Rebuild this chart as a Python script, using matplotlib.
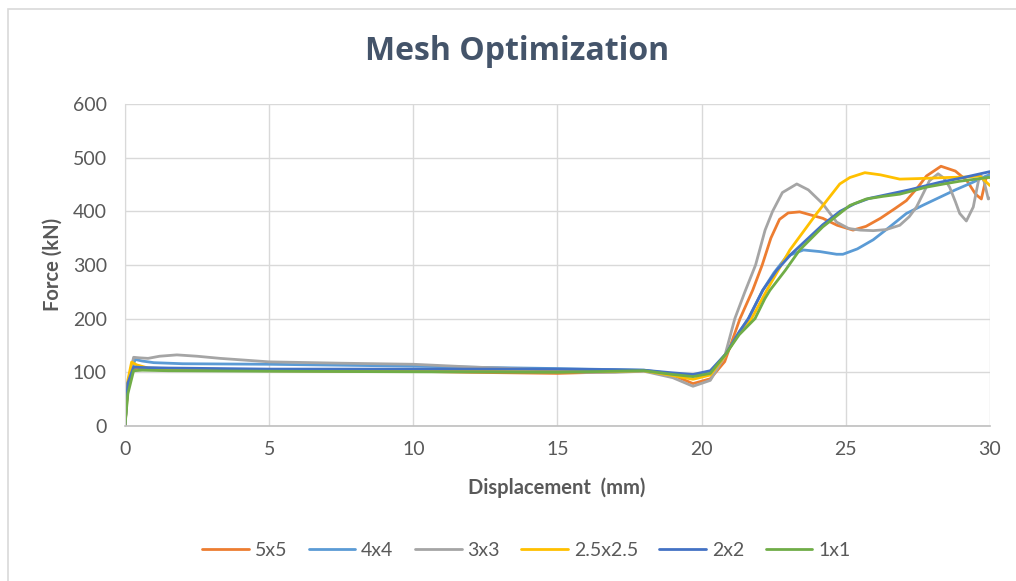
import matplotlib
matplotlib.use("Agg")
from matplotlib import pyplot as plt
from matplotlib.patches import Rectangle

# mesh sizes (legend order) and their Excel palette colours
meshes = ['5x5', '4x4', '3x3', '2.5x2.5', '2x2', '1x1']
colors = ['#ED7D31', '#5B9BD5', '#A5A5A5', '#FFC000', '#4472C4', '#70AD47']

# displacement (mm) / force (kN) per mesh size
x_5x5 = [0, 0.1, 0.25, 0.4, 0.7, 1.5, 3, 5, 8, 10, 12, 15, 17, 18, 19, 19.7, 20.3, 20.8,
         21.33, 21.77, 22.1, 22.4, 22.7, 23.0, 23.4, 23.8, 24.2, 24.7, 25.25, 25.7, 26.2,
         26.7, 27.1, 27.5, 27.8, 28.3, 28.8, 29.2, 29.5, 29.7, 29.87, 30]
y_5x5 = [0, 70, 103, 108, 106, 104, 104, 103, 102, 102, 100, 98, 101, 103, 95, 79, 88, 120,
         200, 253, 300, 350, 385, 397, 399, 393, 387, 374, 365, 372, 387,
         405, 420, 445, 466, 484, 475, 457, 432, 423, 463, 470]

x_4x4 = [0, 0.1, 0.35, 0.6, 1, 2, 5, 10, 12.5, 15, 17, 18, 19, 19.7, 20.3, 20.85, 21.3,
         21.62, 22.12, 22.5, 22.95, 23.53, 24.1, 24.68, 24.9, 25.4, 25.95, 26.5, 27.1, 27.7,
         28.25, 28.8, 29.4, 29.87, 30]
y_4x4 = [0, 80, 124, 121, 118, 116, 115, 111.5, 109, 107, 105, 104, 97, 95, 100, 135, 175,
         200, 253, 285, 316, 328, 325, 320, 320, 330, 347, 370, 396, 412,
         426, 440, 454, 466, 468]

x_3x3 = [0, 0.1, 0.3, 0.5, 0.8, 1.2, 1.8, 2.5, 3.3, 5, 7.5, 10, 12, 14, 16, 17, 18, 19,
         19.7, 20.3, 20.8, 21.15, 21.5, 21.87, 22.2, 22.46, 22.8, 23.3, 23.7, 24.2, 24.68,
         25.1, 25.5, 25.95, 26.4, 26.87, 27.2, 27.45, 27.7, 27.9, 28.2, 28.4, 28.6, 28.8,
         28.95, 29.18, 29.42, 29.6, 29.7, 29.8, 29.94, 30]
y_3x3 = [0, 80, 128, 127, 126, 130, 132.5, 130, 126, 119.5, 117, 115, 110, 106, 100, 100, 102, 90,
         74, 85, 130, 200, 250, 300, 365, 400, 435, 451, 440, 414, 380,
         368, 365, 364, 366, 374, 390, 408, 435, 457, 470, 462, 445, 418,
         396, 382, 408, 457, 466, 455, 423, 425]

x_25 = [0, 0.1, 0.23, 0.4, 0.8, 2, 5, 10, 12, 15, 17, 18, 19, 19.7, 20.3, 20.8, 21.2,
        21.73, 22.1, 22.26, 23.06, 23.99, 24.79, 25.14, 25.66, 26.2, 26.87, 27.5, 28.5,
        29.2, 29.64, 29.94, 30]
y_25 = [0, 85, 119, 114, 108, 106, 105, 104, 102, 101, 102, 103, 94, 87, 95, 130, 165,
        200, 237, 253, 328, 396, 451, 463, 472, 468, 460, 461, 463,
        464, 466, 451, 448]

x_2x2 = [0, 0.1, 0.3, 0.6, 1.5, 5, 10, 15, 17, 18, 19, 19.7, 20.3, 20.85, 21.3, 21.62,
         22.12, 22.6, 23.1, 23.6, 24.2, 24.8, 25.3, 25.8, 26.5, 27.2, 27.8, 28.25, 29,
         29.5, 30]
y_2x2 = [0, 80, 110, 109, 108, 106, 106, 106, 105, 104, 99, 96, 103, 135, 175, 200,
         253, 290, 320, 345, 375, 400, 414, 424, 432, 440, 448, 454, 462,
         468, 474]

x_1x1 = [0, 0.1, 0.3, 0.6, 1.5, 5, 10, 15, 17, 18, 19, 19.7, 20.3, 20.85, 21.3, 21.85,
         22.19, 22.37, 22.9, 23.4, 24.2, 24.79, 25.14, 25.71, 26.3, 26.87, 27.3, 27.79,
         28.4, 28.94, 29.5, 29.93, 30]
y_1x1 = [0, 60, 103, 104, 103, 102, 101, 100, 102, 103, 96, 92, 98, 135, 170, 200,
         237, 253, 290, 328, 371, 396, 411, 423, 428, 432, 438, 445,
         451, 456, 460, 463, 463]

series = [(x_5x5, y_5x5), (x_4x4, y_4x4), (x_3x3, y_3x3),
          (x_25, y_25), (x_2x2, y_2x2), (x_1x1, y_1x1)]

x_ticks = [0, 5, 10, 15, 20, 25, 30]
y_ticks = [0, 100, 200, 300, 400, 500, 600]

plt.rcParams['font.family'] = ['Lato', 'DejaVu Sans']
text_col = '#595959'

fig = plt.figure(figsize=(10.16, 5.81), dpi=100)
ax = fig.add_axes([0.1230, 0.2668, 0.8514, 0.5542])

for (xs, ys), name, c in zip(series, meshes, colors):
    ax.plot(xs, ys, color=c, lw=2.0, label=name, solid_joinstyle='round',
            solid_capstyle='round')

ax.set_xlim(0, 30)
ax.set_ylim(0, 600)
ax.set_xticks(x_ticks)
ax.set_yticks(y_ticks)
ax.grid(True, color='#D9D9D9', lw=1.0)
ax.set_axisbelow(True)
for s in ['top', 'right']:
    ax.spines[s].set_visible(False)
ax.spines['left'].set_color('#D9D9D9')
ax.spines['bottom'].set_color('#BFBFBF')
ax.spines['bottom'].set_linewidth(1.2)
ax.tick_params(length=0, labelsize=14, labelcolor=text_col)
ax.tick_params(axis='y', pad=13)
ax.tick_params(axis='x', pad=11)

fig.text(0.509, 0.911, 'Mesh Optimization', ha='center', va='center',
         fontsize=23, fontweight='bold', color='#44546A', family='Open Sans')
fig.text(0.052, 0.544, 'Force (kN)', rotation=90, ha='center', va='center',
         fontsize=14.5, fontweight='bold', color=text_col)
fig.text(0.548, 0.160, 'Displacement  (mm)', ha='center', va='center',
         fontsize=14.5, fontweight='bold', color=text_col)

fig.legend(loc='center', bbox_to_anchor=(0.518, 0.053), ncol=6, frameon=False,
           fontsize=14, handlelength=2.4, columnspacing=1.1, handletextpad=0.3,
           labelcolor=text_col)

# chart-area frame
fig.add_artist(Rectangle((8 / 1016, -0.2), 1.2, 1.2 - 9 / 581,
                         transform=fig.transFigure, fill=False,
                         edgecolor='#D9D9D9', lw=1.2))

fig.savefig('out.png', dpi=100)
